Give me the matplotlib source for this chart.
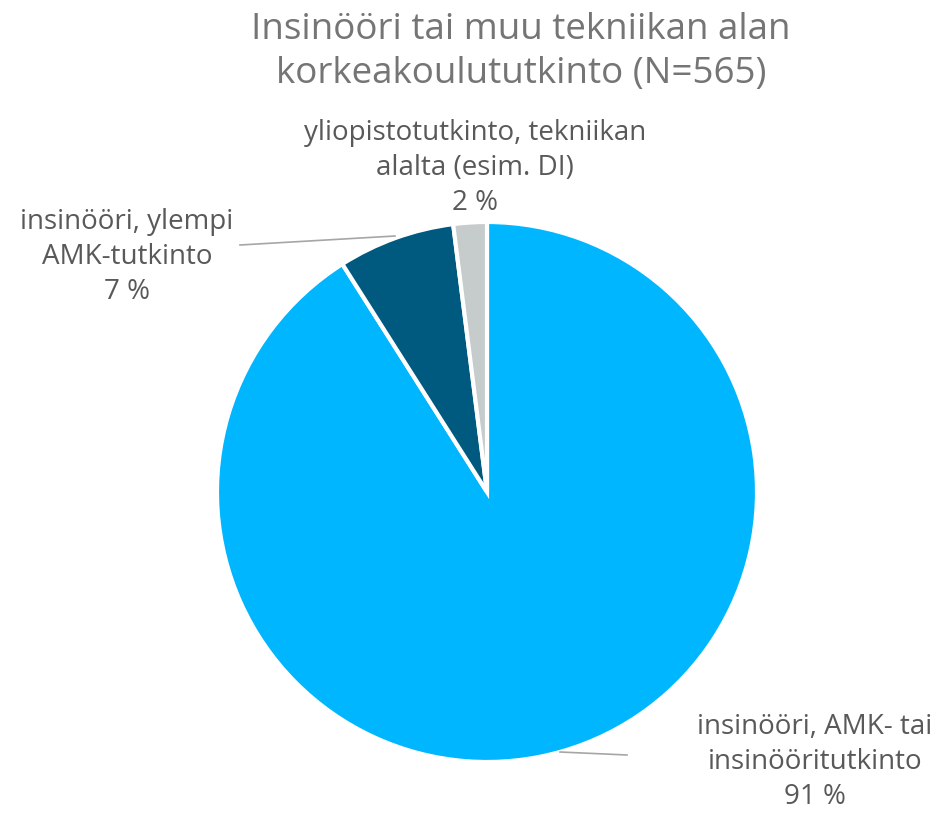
import matplotlib
matplotlib.use("Agg")
import matplotlib.pyplot as plt

# data
labels = ["insinööri, AMK- tai\ninsinööritutkinto",
          "insinööri, ylempi\nAMK-tutkinto",
          "yliopistotutkinto, tekniikan\nalalta (esim. DI)"]
shares = [91, 7, 2]
colors = ["#00B7FF", "#005A7F", "#C6CBCB"]
title = "Insinööri tai muu tekniikan alan\nkorkeakoulututkinto (N=565)"

W, H = 942, 826
plt.rcParams['font.family'] = ['Open Sans', 'DejaVu Sans']

fig = plt.figure(figsize=(W / 100, H / 100), dpi=100)
ax = fig.add_axes([0, 0, 1, 1])

cx, cy, r = 487, H - 492, 270
ax.pie(shares, colors=colors, startangle=90, counterclock=False,
       center=(cx, cy), radius=r, frame=True,
       wedgeprops=dict(edgecolor='white', linewidth=3))
ax.set_xlim(0, W)
ax.set_ylim(0, H)
ax.set_aspect('equal')
ax.axis('off')

txt = '#595959'
fs = 20
ax.text(815, H - 762, labels[0] + "\n%d %%" % shares[0], ha='center', va='center',
        fontsize=fs, color=txt, linespacing=1.35)
ax.text(127, H - 257, labels[1] + "\n%d %%" % shares[1], ha='center', va='center',
        fontsize=fs, color=txt, linespacing=1.35)
ax.text(475, H - 168, labels[2] + "\n%d %%" % shares[2], ha='center', va='center',
        fontsize=fs, color=txt, linespacing=1.35)

# leader lines
ax.plot([240, 395], [H - 245, H - 236], color='#A6A6A6', lw=1.2)
ax.plot([560, 627], [H - 752, H - 755], color='#A6A6A6', lw=1.2)

ax.text(521, H - 52, title, ha='center', va='center', fontsize=26.5,
        color='#757575', linespacing=1.3)

fig.savefig("out.png", dpi=100)
